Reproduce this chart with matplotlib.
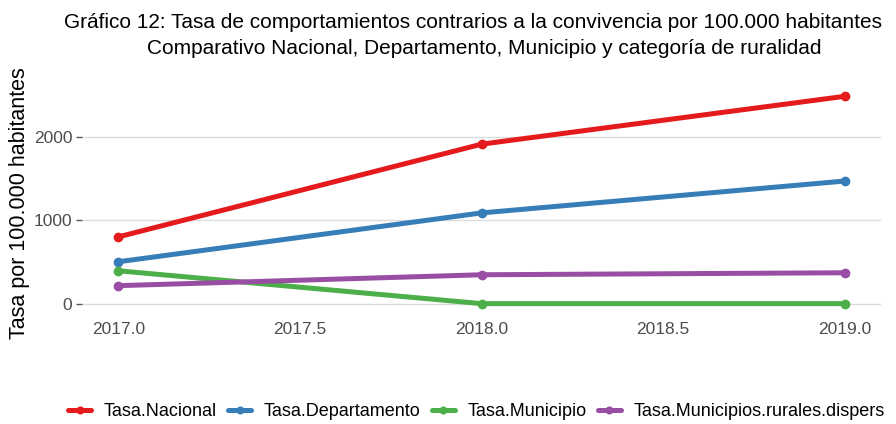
import numpy as np
import matplotlib
matplotlib.use("Agg")
import matplotlib.pyplot as plt

plt.rcParams['font.family'] = ['Liberation Sans', 'DejaVu Sans']

anios = [2017, 2018, 2019]
tasa_nacional = [802, 1916, 2491]
tasa_departamento = [503, 1090, 1473]
tasa_municipio = [395, 0, 0]
tasa_rurales = [216, 347, 371]

series = [
    ('Tasa.Nacional', tasa_nacional, '#E41A1C'),
    ('Tasa.Departamento', tasa_departamento, '#377EB8'),
    ('Tasa.Municipio', tasa_municipio, '#4DAF4A'),
    ('Tasa.Municipios.rurales.dispers', tasa_rurales, '#984EA3'),
]

fig = plt.figure(figsize=(8.96, 4.24), dpi=100)
ax = fig.add_axes([82/896, 1-314/424, (881-82)/896, (314-86)/424])

for nombre, vals, color in series:
    ax.plot(anios, vals, color=color, lw=3.6, marker='o', ms=6,
            solid_capstyle='round', label=nombre)

ax.set_xlim(2016.9, 2019.1)
ax.set_ylim(-124.5, 2615)
ax.set_xticks([2017.0, 2017.5, 2018.0, 2018.5, 2019.0])
ax.set_xticklabels(['2017.0', '2017.5', '2018.0', '2018.5', '2019.0'])
ax.set_yticks([0, 1000, 2000])
for s in ax.spines.values():
    s.set_visible(False)
ax.grid(axis='y', color='#dcdcdc', lw=1)
ax.set_axisbelow(True)
ax.tick_params(axis='x', length=0, pad=6, labelsize=12.5, labelcolor='#4d4d4d')
ax.tick_params(axis='y', length=4, width=1, color='#555555', pad=3,
               labelsize=12.5, labelcolor='#4d4d4d')

fig.text(473/896, 1-23/424,
         'Gráfico 12: Tasa de comportamientos contrarios a la convivencia por 100.000 habitantes',
         ha='center', va='center', fontsize=15)
fig.text(484/896, 1-48/424,
         'Comparativo Nacional, Departamento, Municipio y categoría de ruralidad',
         ha='center', va='center', fontsize=15)
fig.text(20/896, 1-203/424, 'Tasa por 100.000 habitantes', rotation=90,
         ha='center', va='center', fontsize=15.5)

fig.legend(loc='center left', bbox_to_anchor=(68/896, 1-412/424), ncol=4,
           frameon=False, fontsize=13.0, handlelength=1.28, handletextpad=0.68,
           columnspacing=0.64, borderpad=0, borderaxespad=0, markerscale=0.8)

fig.savefig('out.png', dpi=100)
